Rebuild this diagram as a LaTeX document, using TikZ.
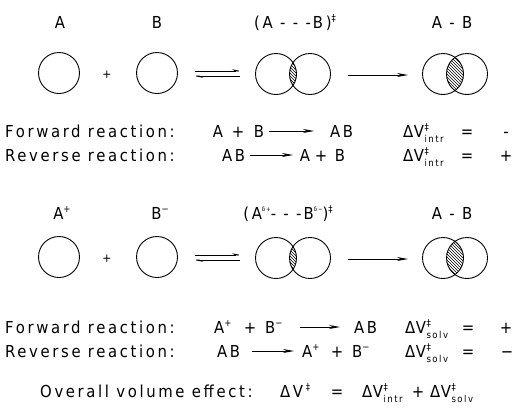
\documentclass[tikz,border=0pt]{standalone}
\usepackage{fontspec}
\setmainfont{DejaVu Sans Condensed}[LetterSpace=16]
\usetikzlibrary{arrows.meta,patterns}
\newcommand\supr[1]{\raisebox{7pt}{\fontsize{9.5}{9.5}\selectfont #1}}
\newcommand\subr[1]{\raisebox{-5pt}{\fontsize{9.5}{9.5}\selectfont #1}}
\newcommand\dVsub[1]{Δ\kern0.5pt V\kern0.5pt\rlap{\supr{‡}}\subr{#1}}
\newcommand\dsup[1]{\raisebox{8pt}{\fontsize{6}{6}\selectfont #1}}
\begin{document}
\begin{tikzpicture}[x=1pt,y=-1pt,
  txt/.style={inner sep=0pt, font=\fontsize{16.5}{16.5}\selectfont},
  lbl/.style={txt, anchor=base west},
  ctr/.style={txt, anchor=base},
  pls/.style={inner sep=0pt, font=\fontsize{12}{12}\selectfont},
  mol/.style={circle, draw, line width=0.9pt, minimum size=41pt, inner sep=0pt},
  rxn/.style={line width=0.8pt, -{Stealth[length=11pt,width=4pt]}},
  harp/.style={line width=0.8pt, -{Stealth[harpoon,length=9pt,width=3.5pt]}},
  hatch/.style={pattern=north west lines}]
\useasboundingbox (0,0) rectangle (514,410);

% ---------- top scheme ----------
\node[ctr] (tA) at (60,28) {A};
\node[ctr] (tB) at (157,28) {B};
\node[ctr] (tTS) at (295,28) {(A - - -B)\supr{‡}};
\node[ctr] (tP) at (452,28) {A - B};

\node[mol] (a1) at (59,73) {};
\node[pls] (p1) at (107,75) {+};
\node[mol] (b1) at (157,73) {};
\node[mol] (s1) at (276,74) {};
\node[mol] (s2) at (310,74) {};
\node[mol] (q1) at (443,74) {};
\node[mol] (q2) at (467,74) {};
\begin{scope}
  \clip (s1.center) circle (20.5);
  \fill[hatch] (s2.center) circle (20.5);
\end{scope}
\begin{scope}
  \clip (q1.center) circle (20.5);
  \fill[hatch] (q2.center) circle (20.5);
\end{scope}

\coordinate (e1a) at (195,71);
\coordinate (e1b) at (243,71);
\coordinate (e2a) at (240,76);
\coordinate (e2b) at (192,76);
\draw[harp] (e1a) -- (e1b);
\draw[harp] (e2a) -- (e2b);
\coordinate (f1a) at (348,75);
\coordinate (f1b) at (408,75);
\draw[rxn] (f1a) -- (f1b);

% ---------- top equations ----------
\node[lbl] (r1) at (5,137) {Forward reaction:};
\node[ctr] (r1A) at (218,137) {A};
\node[ctr] (r1p) at (238,137) {+};
\node[ctr] (r1B) at (259,137) {B};
\node[lbl] (r1AB) at (330,137) {AB};
\coordinate (r1s) at (269,131);
\coordinate (r1e) at (314,131);
\draw[rxn] (r1s) -- (r1e);
\node[lbl] (r1dV) at (403,137) {\dVsub{intr}};
\node[ctr] (r1eq) at (467,137) {=};
\node[ctr] (r1sg) at (506,137) {-};

\node[lbl] (r2) at (5,161) {Reverse reaction:};
\node[lbl] (r2AB) at (222,161) {AB};
\node[ctr] (r2A) at (305,161) {A};
\node[ctr] (r2p) at (321,161) {+};
\node[ctr] (r2B) at (340,161) {B};
\coordinate (r2s) at (250,155);
\coordinate (r2e) at (293,155);
\draw[rxn] (r2s) -- (r2e);
\node[lbl] (r2dV) at (403,161) {\dVsub{intr}};
\node[ctr] (r2eq) at (467,161) {=};
\node[ctr] (r2sg) at (506,161) {+};

% ---------- bottom scheme ----------
\node[ctr] (uA) at (62,219) {A\supr{+}};
\node[ctr] (uB) at (160,219) {B\supr{−}};
\node[ctr] (uTS) at (288,219) {(A\dsup{δ+}- - -B\dsup{δ−})\supr{‡}};
\node[ctr] (uP) at (452,219) {A - B};

\node[mol] (a2) at (59,257) {};
\node[pls] (p2) at (107,259) {+};
\node[mol] (b2) at (157,257) {};
\node[mol] (s3) at (276,258) {};
\node[mol] (s4) at (310,258) {};
\node[mol] (q3) at (443,258) {};
\node[mol] (q4) at (467,258) {};
\begin{scope}
  \clip (s3.center) circle (20.5);
  \fill[hatch] (s4.center) circle (20.5);
\end{scope}
\begin{scope}
  \clip (q3.center) circle (20.5);
  \fill[hatch] (q4.center) circle (20.5);
\end{scope}

\coordinate (e3a) at (195,255);
\coordinate (e3b) at (243,255);
\coordinate (e4a) at (240,260);
\coordinate (e4b) at (192,260);
\draw[harp] (e3a) -- (e3b);
\draw[harp] (e4a) -- (e4b);
\coordinate (f2a) at (348,259);
\coordinate (f2b) at (408,259);
\draw[rxn] (f2a) -- (f2b);

% ---------- bottom equations ----------
\node[lbl] (r3) at (5,333) {Forward reaction:};
\node[lbl] (r3A) at (214,333) {A\supr{+}};
\node[ctr] (r3p) at (250,333) {+};
\node[lbl] (r3B) at (265,333) {B\supr{−}};
\node[lbl] (r3AB) at (354,333) {AB};
\coordinate (r3s) at (300,327);
\coordinate (r3e) at (340,327);
\draw[rxn] (r3s) -- (r3e);
\node[lbl] (r3dV) at (405,333) {\dVsub{solv}};
\node[ctr] (r3eq) at (468,333) {=};
\node[ctr] (r3sg) at (506,333) {+};

\node[lbl] (r4) at (5,357) {Reverse reaction:};
\node[lbl] (r4AB) at (217,357) {AB};
\coordinate (r4s) at (252,351);
\coordinate (r4e) at (294,351);
\draw[rxn] (r4s) -- (r4e);
\node[lbl] (r4A) at (302,357) {A\supr{+}};
\node[ctr] (r4p) at (337,357) {+};
\node[lbl] (r4B) at (352,357) {B\supr{−}};
\node[lbl] (r4dV) at (405,357) {\dVsub{solv}};
\node[ctr] (r4eq) at (468,357) {=};
\node[ctr] (r4sg) at (507,357) {−};

% ---------- overall ----------
\node[lbl] (ov) at (40,397) {Overall volume effect:};
\node[lbl] (ovdV) at (280,397) {ΔV\,\supr{‡}};
\node[ctr] (oveq) at (337,397) {=};
\node[lbl] (ovi) at (362,397) {\dVsub{intr}};
\node[ctr] (ovp) at (418,397) {+};
\node[lbl] (ovs) at (430,397) {\dVsub{solv}};
\end{tikzpicture}
\end{document}
